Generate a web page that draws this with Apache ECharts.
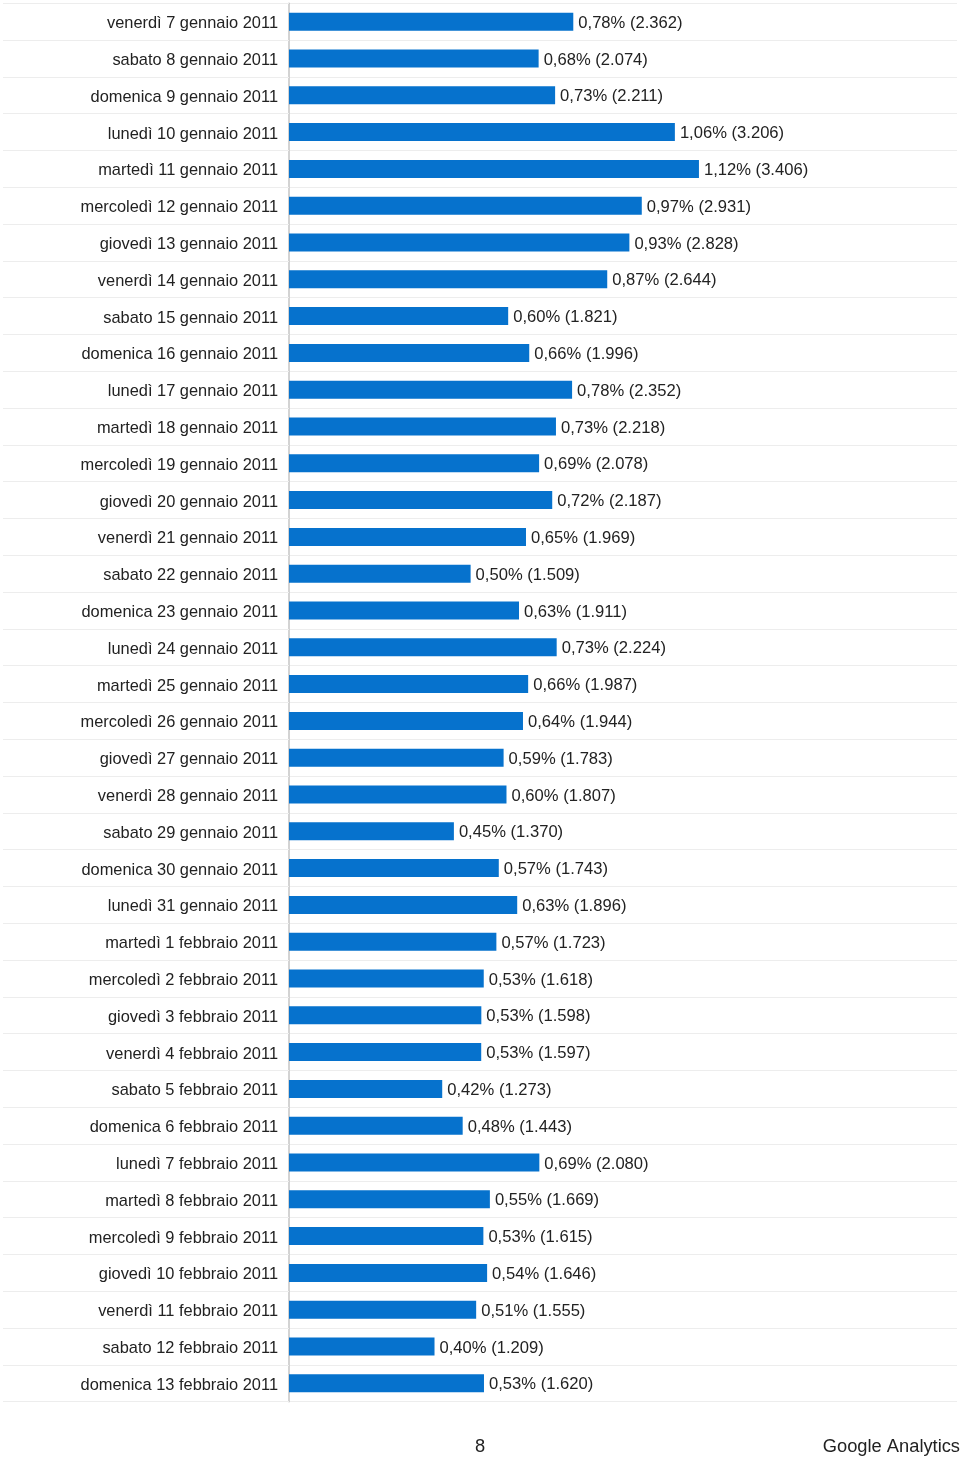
<!DOCTYPE html>
<html>
<head>
<meta charset="utf-8">
<script src="https://cdn.jsdelivr.net/npm/echarts@6/dist/echarts.min.js"></script>
<style>html,body{margin:0;padding:0;background:#fff}#c{width:960px;height:1458px}</style>
</head>
<body>
<div id="c"></div>
<script>
var categories = [
  'venerdì 7 gennaio 2011','sabato 8 gennaio 2011','domenica 9 gennaio 2011','lunedì 10 gennaio 2011',
  'martedì 11 gennaio 2011','mercoledì 12 gennaio 2011','giovedì 13 gennaio 2011','venerdì 14 gennaio 2011',
  'sabato 15 gennaio 2011','domenica 16 gennaio 2011','lunedì 17 gennaio 2011','martedì 18 gennaio 2011',
  'mercoledì 19 gennaio 2011','giovedì 20 gennaio 2011','venerdì 21 gennaio 2011','sabato 22 gennaio 2011',
  'domenica 23 gennaio 2011','lunedì 24 gennaio 2011','martedì 25 gennaio 2011','mercoledì 26 gennaio 2011',
  'giovedì 27 gennaio 2011','venerdì 28 gennaio 2011','sabato 29 gennaio 2011','domenica 30 gennaio 2011',
  'lunedì 31 gennaio 2011','martedì 1 febbraio 2011','mercoledì 2 febbraio 2011','giovedì 3 febbraio 2011',
  'venerdì 4 febbraio 2011','sabato 5 febbraio 2011','domenica 6 febbraio 2011','lunedì 7 febbraio 2011',
  'martedì 8 febbraio 2011','mercoledì 9 febbraio 2011','giovedì 10 febbraio 2011','venerdì 11 febbraio 2011',
  'sabato 12 febbraio 2011','domenica 13 febbraio 2011'
];
var visits = [2362,2074,2211,3206,3406,2931,2828,2644,1821,1996,2352,2218,2078,2187,1969,1509,1911,2224,1987,1944,
  1783,1807,1370,1743,1896,1723,1618,1598,1597,1273,1443,2080,1669,1615,1646,1555,1209,1620];
var percents = [0.78,0.68,0.73,1.06,1.12,0.97,0.93,0.87,0.60,0.66,0.78,0.73,0.69,0.72,0.65,0.50,0.63,0.73,0.66,0.64,
  0.59,0.60,0.45,0.57,0.63,0.57,0.53,0.53,0.53,0.42,0.48,0.69,0.55,0.53,0.54,0.51,0.40,0.53];
var pageNumber = '8';
var footerText = 'Google Analytics';

function fmtCount(v){ return String(v).replace(/\B(?=(\d{3})+(?!\d))/g, '.'); }
function fmtPct(p){ return p.toFixed(2).replace('.', ',') + '%'; }

var chart = echarts.init(document.getElementById('c'), null, {renderer:'canvas'});
var font = '"Liberation Sans", Arial, Helvetica, sans-serif';
chart.setOption({
  animation: false,
  backgroundColor: '#ffffff',
  textStyle: {fontFamily: font},
  title: [
    {text: pageNumber, left: 'center', top: 1433, textStyle: {fontSize: 18.3, fontWeight: 'normal', color: '#222', fontFamily: font}},
    {text: footerText, right: -5, top: 1433, textStyle: {fontSize: 18.3, fontWeight: 'normal', color: '#222', fontFamily: font}}
  ],
  grid: {left: 289, right: 3, top: 3.3, height: 1398.4, containLabel: false},
  xAxis: {type: 'value', min: 0, max: 5550, show: false},
  yAxis: {
    type: 'category', data: categories, inverse: true,
    axisLine: {show: true, lineStyle: {color: '#c4c4c4', width: 1.5}},
    axisTick: {show: true, length: 286, interval: 0, lineStyle: {color: '#ededed', width: 1}},
    splitLine: {show: true, interval: 0, lineStyle: {color: '#ededed', width: 1}},
    axisLabel: {
      interval: 0, margin: 11, fontSize: 16.4, color: '#222', fontFamily: font,
      formatter: function(v){ return '{a|' + v + '}'; },
      rich: {a: {fontSize: 16.4, color: '#222', fontFamily: font, padding: [4, 0, 0, 0]}}
    }
  },
  series: [{
    type: 'bar', data: visits, barWidth: 18,
    itemStyle: {color: '#0672cd'},
    label: {
      show: true, position: 'right', distance: 5, fontSize: 16.6, color: '#222', fontFamily: font, offset: [0, 1.5],
      formatter: function(p){ return fmtPct(percents[p.dataIndex]) + ' (' + fmtCount(visits[p.dataIndex]) + ')'; }
    }
  }]
});
</script>
</body>
</html>
